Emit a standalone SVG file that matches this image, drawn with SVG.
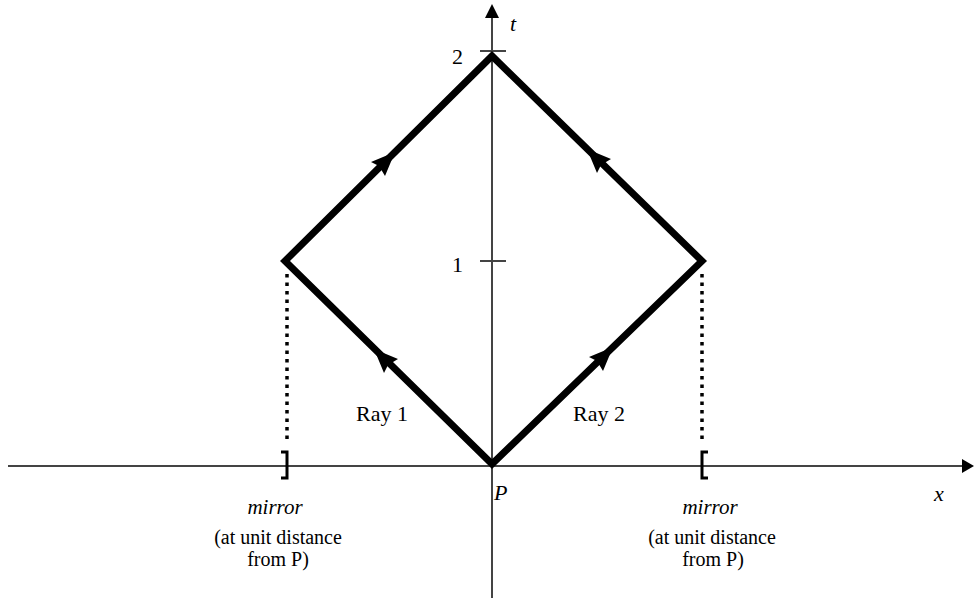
<svg xmlns="http://www.w3.org/2000/svg" width="974" height="600" viewBox="0 0 974 600">
<style>
.axis{stroke:#444;stroke-width:2;fill:none}
.ray{stroke:#000;stroke-width:7;fill:none;stroke-linejoin:miter;stroke-linecap:butt}
.dot{stroke:#000;stroke-width:3.5;stroke-dasharray:3.5 5;fill:none}
.br{stroke:#000;stroke-width:3;fill:none}
.ah{fill:#000}
.t{font-family:"Liberation Serif",serif;font-size:22px;fill:#000}
.s{font-size:20px}
.mi{font-size:21px;font-style:italic}
.i{font-style:italic}
.m{text-anchor:middle}
</style>
<g id="axes">
<line class="axis" x1="8" y1="466" x2="964" y2="466"/>
<path d="M974,466 L962,459 L962,473 Z" fill="#000"/>
<line class="axis" x1="492" y1="16" x2="492" y2="598"/>
<path d="M492,4 L485,18 L499,18 Z" fill="#000"/>
<line class="axis" x1="480" y1="51" x2="506" y2="51"/>
<line class="axis" x1="480" y1="261" x2="506" y2="261"/>
</g>
<g id="rays">
<path class="ray" d="M492,464 L285,261 L492,56 L702,261 Z"/>
</g>
<g id="arrows">
<path class="ah" d="M374,349 L398,359 L388,365 L384,373 Z"/>
<path class="ah" d="M395,152 L385,176 L379,166 L371,162 Z"/>
<path class="ah" d="M587,149 L611,159 L601,165 L597,173 Z"/>
<path class="ah" d="M613,347 L603,371 L597,361 L589,357 Z"/>
</g>
<g id="mirror-left">
<line class="dot" x1="287" y1="274" x2="287" y2="444"/>
<path class="br" d="M281,452 L287,452 L287,478 L281,478"/>
</g>
<g id="mirror-right">
<line class="dot" x1="702" y1="274" x2="702" y2="444"/>
<path class="br" d="M708,452 L702,452 L702,478 L708,478"/>
</g>
<g id="labels">
<text class="t" x="452" y="64" font-size="24">2</text>
<text class="t" x="452" y="272" font-size="24">1</text>
<text class="t i" x="510" y="31">t</text>
<text class="t i" x="934" y="501" font-size="20">x</text>
<text class="t i" x="494" y="500" font-size="24">P</text>
<text class="t m" x="382" y="421">Ray 1</text>
<text class="t m" x="599" y="421">Ray 2</text>
<text class="t mi m" x="275" y="514">mirror</text>
<text class="t m s" x="278" y="544">(at unit distance</text>
<text class="t m s" x="278" y="566">from P)</text>
<text class="t mi m" x="710" y="514">mirror</text>
<text class="t m s" x="712" y="544">(at unit distance</text>
<text class="t m s" x="713" y="566">from P)</text>
</g>
</svg>
